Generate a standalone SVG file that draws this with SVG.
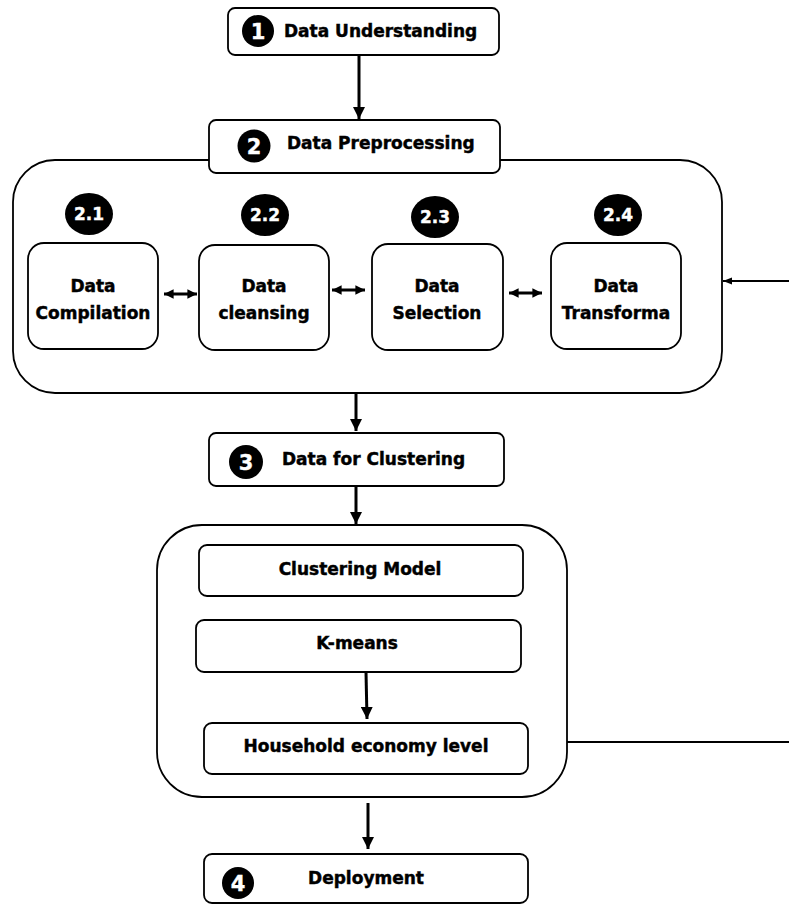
<svg xmlns="http://www.w3.org/2000/svg" width="789" height="905" viewBox="0 0 789 905">
<style>
.box{fill:#fff;stroke:#000;stroke-width:1.8}
.t{font-family:"DejaVu Sans",sans-serif;font-weight:bold;font-size:17px;fill:#000;stroke:#000;stroke-width:0.45}
.c{text-anchor:middle}
.num{font-family:"DejaVu Sans",sans-serif;font-weight:bold;fill:#fff;stroke:#fff;stroke-width:0.4;text-anchor:middle}
.arr{stroke:#000;stroke-width:3;fill:none}
.thin{stroke:#000;stroke-width:1.8;fill:none}
</style>
<defs>
<marker id="ah" viewBox="0 0 10 10" refX="10" refY="5" markerWidth="4" markerHeight="4" orient="auto" markerUnits="strokeWidth"><path d="M0,0L10,5L0,10z" fill="#000"/></marker>
<marker id="ahs" viewBox="0 0 10 10" refX="10" refY="5" markerWidth="3.2" markerHeight="3.2" orient="auto-start-reverse" markerUnits="strokeWidth"><path d="M0,0L10,5L0,10z" fill="#000"/></marker>
<marker id="aht" viewBox="0 0 10 10" refX="10" refY="5" markerWidth="5" markerHeight="5" orient="auto" markerUnits="strokeWidth"><path d="M0,1L10,5L0,9z" fill="#000"/></marker>
</defs>
<rect width="789" height="905" fill="#fff"/>

<g id="container-preprocessing"><rect x="13" y="160" width="709" height="233" rx="42" class="box"/></g>
<g id="container-clustering"><rect x="157" y="525" width="410" height="272" rx="45" class="box"/></g>

<g id="connectors">
<line x1="359" y1="55" x2="359" y2="119" class="arr" marker-end="url(#ah)"/>
<line x1="356" y1="393" x2="356" y2="431" class="arr" marker-end="url(#ah)"/>
<line x1="356" y1="486" x2="356" y2="524" class="arr" marker-end="url(#ah)"/>
<line x1="366" y1="672" x2="367" y2="719" class="arr" marker-end="url(#ah)"/>
<line x1="368" y1="803" x2="368" y2="849" class="arr" marker-end="url(#ah)"/>
<line x1="164" y1="294" x2="197" y2="294" class="arr" marker-start="url(#ahs)" marker-end="url(#ahs)"/>
<line x1="332" y1="290" x2="365" y2="290" class="arr" marker-start="url(#ahs)" marker-end="url(#ahs)"/>
<line x1="509" y1="293" x2="542" y2="293" class="arr" marker-start="url(#ahs)" marker-end="url(#ahs)"/>
<line x1="789" y1="281" x2="723" y2="281" class="thin" marker-end="url(#aht)"/>
<line x1="567" y1="742" x2="789" y2="742" class="arr" style="stroke-width:2.2"/>
</g>

<g id="n1">
<rect x="228" y="8" width="271" height="47" rx="7" class="box"/>
<circle cx="258" cy="31" r="16" fill="#000"/>
<text x="258" y="39" class="num" font-size="21">1</text>
<text x="284" y="37" class="t">Data Understanding</text>
</g>

<g id="n2">
<rect x="209" y="120" width="291" height="53" rx="7" class="box"/>
<circle cx="254" cy="146" r="16.5" fill="#000"/>
<text x="254" y="154" class="num" font-size="21">2</text>
<text x="287" y="149" class="t">Data Preprocessing</text>
</g>

<g id="n2-1">
<ellipse cx="89" cy="214" rx="24" ry="21" fill="#000"/>
<text x="89" y="220" class="num" font-size="17">2.1</text>
<rect x="28" y="243" width="130" height="106" rx="16" class="box"/>
<text x="93" y="292" class="t c">Data</text>
<text x="93" y="319" class="t c">Compilation</text>
</g>

<g id="n2-2">
<ellipse cx="265" cy="215" rx="24" ry="21" fill="#000"/>
<text x="265" y="221" class="num" font-size="17">2.2</text>
<rect x="199" y="245" width="130" height="105" rx="16" class="box"/>
<text x="264" y="292" class="t c">Data</text>
<text x="264" y="319" class="t c">cleansing</text>
</g>

<g id="n2-3">
<ellipse cx="435" cy="217" rx="24" ry="21" fill="#000"/>
<text x="435" y="223" class="num" font-size="17">2.3</text>
<rect x="372" y="244" width="131" height="106" rx="16" class="box"/>
<text x="437" y="292" class="t c">Data</text>
<text x="437" y="319" class="t c">Selection</text>
</g>

<g id="n2-4">
<ellipse cx="618" cy="215" rx="24" ry="21" fill="#000"/>
<text x="618" y="221" class="num" font-size="17">2.4</text>
<rect x="551" y="243" width="130" height="106" rx="16" class="box"/>
<text x="616" y="292" class="t c">Data</text>
<text x="616" y="319" class="t c">Transforma</text>
</g>

<g id="n3">
<rect x="209" y="433" width="295" height="53" rx="7" class="box"/>
<circle cx="246" cy="462" r="17" fill="#000"/>
<text x="246" y="470" class="num" font-size="21">3</text>
<text x="282" y="465" class="t">Data for Clustering</text>
</g>

<g id="n-clustering-model">
<rect x="199" y="545" width="324" height="51" rx="8" class="box"/>
<text x="360" y="575" class="t c">Clustering Model</text>
</g>

<g id="n-kmeans">
<rect x="196" y="620" width="325" height="52" rx="8" class="box"/>
<text x="357" y="649" class="t c">K-means</text>
</g>

<g id="n-household">
<rect x="204" y="723" width="324" height="51" rx="8" class="box"/>
<text x="366" y="752" class="t c">Household economy level</text>
</g>

<g id="n4">
<rect x="204" y="854" width="324" height="49" rx="8" class="box"/>
<circle cx="238" cy="883" r="16" fill="#000"/>
<text x="238" y="891" class="num" font-size="21">4</text>
<text x="366" y="884" class="t c">Deployment</text>
</g>
</svg>
